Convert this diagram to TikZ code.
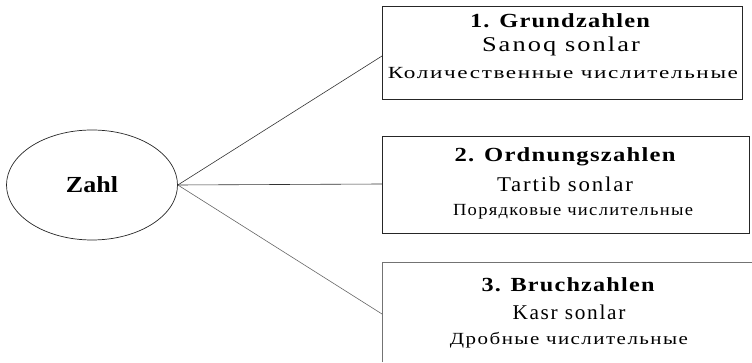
\documentclass[tikz,border=0pt]{standalone}
\usepackage{fontspec}
\setmainfont{Liberation Serif}
\usetikzlibrary{shapes.geometric}
\newcommand{\fitw}[2]{\resizebox{#1}{\height}{#2}}
\begin{document}
\begin{tikzpicture}[x=1pt,y=-1pt,
  box/.style={draw=black!85,line width=0.7pt},
  conn/.style={draw=black!80,line width=0.6pt},
  ttl/.style={inner sep=0pt,font=\fontsize{20}{24}\selectfont\bfseries\addfontfeature{LetterSpace=5}},
  uz/.style={inner sep=0pt,font=\fontsize{21}{25}\selectfont\addfontfeature{LetterSpace=8}},
  ru/.style={inner sep=0pt,font=\fontsize{17}{20}\selectfont\addfontfeature{LetterSpace=7}}]
\useasboundingbox (0,0) rectangle (752,363);
% ellipse
\node[ellipse,draw=black!85,line width=0.7pt,minimum width=171pt,minimum height=110pt,inner sep=0pt] (zahl) at (92,185) {};
\node[inner sep=0pt,font=\fontsize{23}{27}\selectfont\bfseries] (zt) at (92,185) {\fitw{52pt}{Zahl}};
% boxes
\draw[box] (382,6) rectangle (742,99);
\draw[box] (382,136) rectangle (749,233);
\draw[box,draw=black!55] (382,362) -- (382,262) -- (752,262);
% texts
\node[ttl] (g1) at (560,21) {\fitw{180pt}{1. Grundzahlen}};
\node[uz] (s1) at (561,46) {\fitw{158pt}{Sanoq sonlar}};
\node[ru] (r1) at (563,73) {\fitw{350pt}{Количественные числительные}};
\node[ttl] (g2) at (565,157) {\fitw{221pt}{2. Ordnungszahlen}};
\node[uz] (s2) at (565,184) {\fitw{136pt}{Tartib sonlar}};
\node[ru] (r2) at (573,212) {\fitw{240pt}{Порядковые числительные}};
\node[ttl] (g3) at (568,285) {\fitw{173pt}{3. Bruchzahlen}};
\node[uz] (s3) at (569,312) {\fitw{113pt}{Kasr sonlar}};
\node[ru] (r3) at (569,340) {\fitw{238pt}{Дробные числительные}};
% connector ends
\coordinate (e1) at (382,56);
\coordinate (e2) at (382,184);
\coordinate (e3) at (382,314);
\draw[conn] (zahl.east) -- (e1);
\draw[conn] (zahl.east) -- (e2);
\draw[conn,draw=black!60] (zahl.east) -- (e3);
\end{tikzpicture}
\end{document}
